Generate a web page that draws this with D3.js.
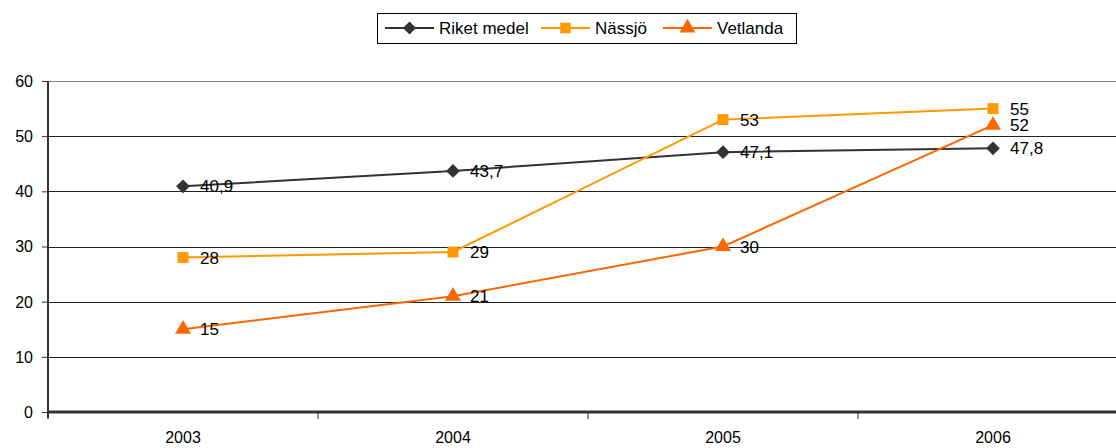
<!DOCTYPE html>
<meta charset="utf-8">
<style>
body { margin: 0; background: #fff; }
text { font-family: "Liberation Sans", Arial, sans-serif; font-size: 16px; fill: #000; }
.grid line { stroke: #222; stroke-width: 1px; }
</style>
<body>
<script src="https://cdn.jsdelivr.net/npm/d3@7"></script>
<script>

var width = 1116,
    height = 448;

var years = ["2003", "2004", "2005", "2006"];
var riket = [40.9, 43.7, 47.1, 47.8];
var nassjo = [28, 29, 53, 55];
var vetlanda = [15, 21, 30, 52];
var yTicks = [0, 10, 20, 30, 40, 50, 60];

var series = [
  {name: "Riket medel", values: riket, color: "#333333", shape: d3.symbolDiamond2},
  {name: "Nässjö", values: nassjo, color: "#FF9900", shape: d3.symbolSquare},
  {name: "Vetlanda", values: vetlanda, color: "#FF6600", shape: d3.symbolTriangle}
];

var x = d3.scaleBand()
    .domain(years)
    .range([48, 1128]);

var y = d3.scaleLinear()
    .domain([0, 60])
    .range([412, 81]);

var svg = d3.select("body").append("svg")
    .attr("width", width)
    .attr("height", height);

// horizontal gridlines
svg.append("g")
    .attr("class", "grid")
  .selectAll("line")
  .data(yTicks.slice(1))
  .enter().append("line")
    .attr("x1", 48)
    .attr("x2", width)
    .attr("y1", function(d) { return Math.round(y(d)) + 0.5; })
    .attr("y2", function(d) { return Math.round(y(d)) + 0.5; })
    .style("stroke", function(d) { return d === 60 ? "#888" : "#222"; });

// y axis
var yAxis = svg.append("g")
    .attr("transform", "translate(48,0)")
    .call(d3.axisLeft(y).tickValues(yTicks).tickSize(6).tickPadding(9));
yAxis.select(".domain").attr("stroke", "#333").attr("stroke-width", 2).attr("d", "M0,81V418");
yAxis.selectAll(".tick line").attr("stroke", "#333");
yAxis.selectAll("text").style("font-size", "16px").attr("dy", "0.34em");

// x axis
var xAxis = svg.append("g")
    .attr("transform", "translate(0,412)")
    .call(d3.axisBottom(x).tickSize(0).tickPadding(20));
xAxis.select(".domain").attr("stroke", "#333").attr("stroke-width", 3).attr("d", "M48,0H" + width);
xAxis.selectAll(".sep")
    .data(years)
  .enter().append("line")
    .attr("x1", function(d) { return x(d); })
    .attr("x2", function(d) { return x(d); })
    .attr("y1", 0)
    .attr("y2", 7)
    .attr("stroke", "#333");
xAxis.selectAll(".tick text").style("font-size", "16px");

var line = d3.line()
    .x(function(d, i) { return x(years[i]) + x.bandwidth() / 2; })
    .y(function(d) { return y(d); });

var fmt = function(v) { return String(v).replace(".", ","); };

series.forEach(function(s) {
  var g = svg.append("g");
  g.append("path")
      .datum(s.values)
      .attr("fill", "none")
      .attr("stroke", s.color)
      .attr("stroke-width", 2)
      .attr("d", line);
  g.selectAll(".pt")
      .data(s.values)
    .enter().append("path")
      .attr("transform", function(d, i) {
        return "translate(" + (x(years[i]) + x.bandwidth() / 2) + "," + y(d) + ")";
      })
      .attr("d", d3.symbol().type(s.shape).size(s.shape === d3.symbolTriangle ? 110 : 120))
      .attr("fill", s.color);
  g.selectAll(".lbl")
      .data(s.values)
    .enter().append("text")
      .attr("x", function(d, i) { return x(years[i]) + x.bandwidth() / 2 + 17; })
      .attr("y", function(d) { return y(d) + 6; })
      .style("font-size", "17px")
      .text(fmt);
});

// legend
var legend = svg.append("g");
legend.append("rect")
    .attr("x", 377.5)
    .attr("y", 13.5)
    .attr("width", 419)
    .attr("height", 30)
    .attr("fill", "#fff")
    .attr("stroke", "#000");

var legendX = [385, 541, 663];
series.forEach(function(s, i) {
  var lg = legend.append("g").attr("transform", "translate(" + legendX[i] + ",28)");
  lg.append("line")
      .attr("x1", 0).attr("x2", 49)
      .attr("stroke", s.color)
      .attr("stroke-width", 2);
  lg.append("path")
      .attr("transform", "translate(24.5,0)")
      .attr("d", d3.symbol().type(s.shape).size(110))
      .attr("fill", s.color);
  lg.append("text")
      .attr("x", 54)
      .attr("y", 6)
      .style("font-size", "17px")
      .text(s.name);
});

</script>
